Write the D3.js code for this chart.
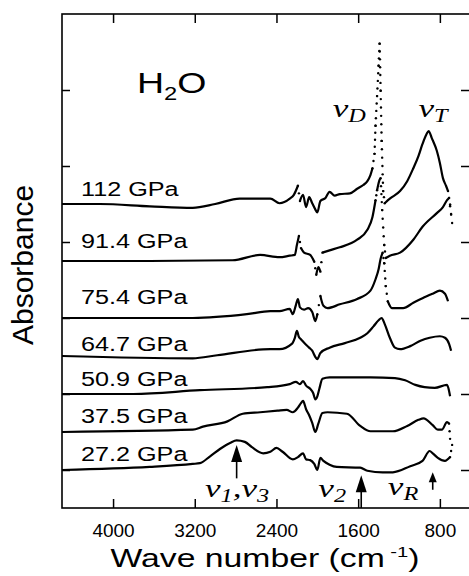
<!DOCTYPE html>
<html>
<head>
<meta charset="utf-8">
<script src="https://cdn.jsdelivr.net/npm/d3@7"></script>
<style>
  body { margin: 0; background: #fff; }
  svg { display: block; }
</style>
</head>
<body>
<svg id="chart"></svg>
<script>
// pressures, baseline offsets of the stacked spectra, ticks
const pressures = ['112 GPa', '91.4 GPa', '75.4 GPa', '64.7 GPa', '50.9 GPa', '37.5 GPa', '27.2 GPa'];
const offsets = [4.0, 3.25, 2.5, 2.0, 1.5, 1.0, 0.5];
const xTicks = [4000, 3200, 2400, 1600, 800];
const yTicks = [0.5, 1.5, 2.5, 3.5, 4.5, 5.5];

// [wave number, absorbance above the baseline offset]
const s112 = [[4500,0],[4130,0],[3640,-0.03],[3220,-0.05],[3000,0],[2760,0.07],[2460,0.07],[2370,0.01],[2270,0.07],
  [2230,0.12],[2190,0.24],[2170,0.04],[2140,0.12],[2110,-0.04],[2080,0.09],[2050,0.01],[2020,-0.07],[2000,-0.11],
  [1970,0.04],[1920,0.08],[1880,0.16],[1830,0.11],[1780,0.13],[1680,0.14],[1610,0.2],[1550,0.25],[1510,0.3],
  [1480,0.38],[1460,0.47],[1440,0.66],[1430,1.03],[1415,1.42],[1400,1.82],[1390,2.11],[1380,1.49],[1370,0.83],
  [1355,0.17],[1340,0.01],[1290,0.07],[1190,0.17],[1120,0.3],[1060,0.47],[1010,0.63],[970,0.79],[930,0.92],
  [910,0.96],[880,0.87],[830,0.7],[800,0.54],[770,0.34],[740,0.24],[720,0.17],[700,-0.01],[680,-0.25]];
const s914 = [[4500,0],[3640,0],[2830,0.01],[2560,0.08],[2370,0.05],[2270,0.07],[2220,0.08],[2200,0.21],[2180,0.33],
  [2160,0.17],[2130,0.11],[2070,0.08],[2030,-0.01],[2010,-0.18],[1990,-0.08],[1970,-0.14],[1950,0.11],[1880,0.14],
  [1780,0.18],[1610,0.28],[1510,0.41],[1460,0.58],[1430,0.8],[1415,0.93],[1390,1.07],[1380,1.09],[1365,0.67],
  [1345,0.21],[1330,0.04],[1290,0.07],[1190,0.11],[1060,0.28],[970,0.45],[830,0.63],[770,0.71],[730,0.8],
  [710,0.83],[690,0.61]];
const s754 = [[4500,0],[3220,0],[2690,0.05],[2460,0.09],[2370,0.09],[2270,0.12],[2240,0.05],[2210,0.17],[2190,0.25],
  [2170,0.14],[2130,0.11],[2090,0.13],[2050,0.08],[2020,-0.04],[2000,0.05],[1970,0.29],[1940,0.16],[1900,0.13],
  [1780,0.18],[1610,0.25],[1480,0.36],[1430,0.51],[1400,0.64],[1380,0.78],[1360,0.86],[1345,0.72],[1330,0.42],
  [1310,0.22],[1270,0.13],[1160,0.13],[1060,0.2],[970,0.26],[870,0.32],[800,0.36],[750,0.32],[720,0.22]];
const s647 = [[4500,0],[3220,-0.03],[2980,0.01],[2460,0.09],[2370,0.09],[2250,0.16],[2220,0.24],[2200,0.33],
  [2180,0.25],[2160,0.22],[2120,0.16],[2080,0.11],[2050,0.07],[2020,-0.01],[2000,-0.04],[1970,0.04],[1880,0.11],
  [1730,0.17],[1580,0.24],[1510,0.3],[1450,0.39],[1400,0.47],[1370,0.5],[1340,0.42],[1290,0.24],[1240,0.11],
  [1190,0.09],[1090,0.13],[990,0.2],[900,0.24],[800,0.26],[750,0.24],[710,0.16],[690,0.07]];
const s509 = [[4500,0],[3800,0],[3150,0.05],[2490,0.09],[2270,0.13],[2210,0.16],[2170,0.13],[2140,0.17],[2110,0.11],
  [2070,0.07],[2040,0.01],[2020,-0.07],[2000,-0.03],[1980,0.07],[1950,0.2],[1880,0.22],[1680,0.22],[1480,0.22],
  [1240,0.21],[1140,0.18],[1040,0.12],[950,0.09],[850,0.08],[730,0.12],[710,0.04],[700,-0.03]];
const s375 = [[4500,0],[3220,0.03],[3120,0.07],[2880,0.14],[2730,0.24],[2560,0.26],[2390,0.28],[2300,0.29],
  [2240,0.26],[2190,0.32],[2160,0.38],[2140,0.41],[2110,0.3],[2080,0.22],[2050,0.12],[2020,0],[1990,0.11],
  [1950,0.25],[1900,0.26],[1710,0.24],[1580,0.08],[1480,0.01],[1260,0.01],[1120,0.08],[1010,0.16],[960,0.18],
  [870,0.09],[820,0.03],[780,0.03],[730,0.13],[710,0.11],[700,-0.09]];
const s272 = [[4500,0],[3640,0.04],[3220,0.08],[3150,0.09],[3050,0.18],[2950,0.28],[2850,0.36],[2790,0.39],
  [2710,0.37],[2640,0.3],[2530,0.22],[2460,0.24],[2400,0.29],[2340,0.24],[2240,0.14],[2190,0.17],[2140,0.22],
  [2110,0.14],[2070,0.13],[2030,0.08],[2000,0],[1970,0.16],[1940,0.12],[1880,0.07],[1810,0.04],[1580,0.03],
  [1510,-0.01],[1360,-0.03],[1260,-0.03],[1090,0.05],[970,0.12],[900,0.25],[870,0.22],[820,0.16],[750,0.12],
  [700,0.17],[680,0.33]];
const spectra = [s112, s914, s754, s647, s509, s375, s272];

// band assignments: arrows (wave number, tip, tail)
const arrowWave = [2790, 1570, 870];
const arrowTip = [0.83, 0.43, 0.47];
const arrowTail = [0.39, 0, 0.24];

const width = 469, height = 576;
const svg = d3.select('#chart').attr('width', width).attr('height', height);

const x = d3.scaleLinear().domain([4500, 505]).range([62, 470]);
const y = d3.scaleLinear().domain([0, 6.5]).range([508, 14]);

const sans = '"Liberation Sans", Arial, Helvetica, sans-serif';
const serif = '"Liberation Serif", "Times New Roman", serif';

// ticks on all four sides, pointing inward
const axBottom = svg.append('g').attr('transform', `translate(0,${y(0)})`)
  .call(d3.axisBottom(x).tickValues(xTicks).tickFormat(d3.format('d'))
    .tickSizeInner(-9).tickSizeOuter(0).tickPadding(16));
const axTop = svg.append('g').attr('transform', `translate(0,${y(6.5)})`)
  .call(d3.axisTop(x).tickValues(xTicks).tickSizeInner(-9).tickSizeOuter(0).tickFormat(''));
const axLeft = svg.append('g').attr('transform', `translate(${x(4500)},0)`)
  .call(d3.axisLeft(y).tickValues(yTicks).tickSizeInner(-8).tickSizeOuter(0).tickFormat(''));
const axRight = svg.append('g').attr('transform', `translate(${x(505)},0)`)
  .call(d3.axisRight(y).tickValues(yTicks).tickSizeInner(-9).tickSizeOuter(0).tickFormat(''));

[axBottom, axTop, axLeft, axRight].forEach(a => {
  a.select('.domain').remove();
  a.selectAll('line').attr('stroke', '#000').attr('stroke-width', 1.5);
});
axBottom.selectAll('text').attr('fill', '#000').style('font', `19px ${sans}`);

svg.append('rect')
  .attr('x', x(4500)).attr('y', y(6.5))
  .attr('width', x(505) - x(4500)).attr('height', y(0) - y(6.5))
  .attr('fill', 'none').attr('stroke', '#000').attr('stroke-width', 1.6);

// spectra: smooth runs as lines, near-vertical stretches as dots (sparse sampling of the scan)
const line = d3.line().curve(d3.curveMonotoneX);
const plot = svg.append('g');
spectra.forEach((pts, i) => {
  const px = pts.map(d => [x(d[0]), y(d[1] + offsets[i])]);
  const runs = [];
  const dots = [];
  let run = [px[0]];
  for (let k = 0; k < px.length - 1; k++) {
    const [x0, y0] = px[k], [x1, y1] = px[k + 1];
    const dx = x1 - x0, dy = y1 - y0, len = Math.hypot(dx, dy);
    if (Math.abs(dy) > 5.5 * Math.abs(dx) && len > 8) {
      const n = Math.max(2, Math.round(len / 8));
      for (let j = 0; j <= n; j++) dots.push([x0 + dx * j / n, y0 + dy * j / n]);
      if (run.length > 1) runs.push(run);
      run = [px[k + 1]];
    } else {
      run.push(px[k + 1]);
    }
  }
  if (run.length > 1) runs.push(run);

  plot.selectAll(null).data(runs).enter().append('path')
    .attr('d', line)
    .attr('fill', 'none').attr('stroke', '#000')
    .attr('stroke-width', 2.2).attr('stroke-linejoin', 'round');
  plot.selectAll(null).data(dots).enter().append('circle')
    .attr('cx', d => d[0]).attr('cy', d => d[1]).attr('r', 1.2).attr('fill', '#000');
});

// pressure labels
const labelGap = [8, 13, 14, 5, 8, 9, 9];
pressures.forEach((t, i) => {
  svg.append('text')
    .attr('transform', `translate(81,${y(offsets[i]) - labelGap[i]}) scale(1.2,1)`)
    .style('font', `21px ${sans}`).attr('fill', '#000')
    .text(t);
});

// H2O
const h2o = svg.append('text')
  .attr('transform', 'translate(137,93) scale(1.25,1)')
  .style('font', `30px ${sans}`).attr('fill', '#000');
h2o.append('tspan').text('H');
h2o.append('tspan').attr('dy', 7).style('font-size', '19px').text('2');
h2o.append('tspan').attr('dy', -7).text('O');

// band labels
function bandLabel(w, a, parts) {
  const t = svg.append('text')
    .attr('transform', `translate(${x(w)},${y(a)}) scale(1.35,1)`)
    .style('font', `italic 26px ${serif}`).attr('fill', '#000');
  let low = false;
  parts.forEach(pt => {
    const sub = pt[1];
    const s = t.append('tspan').text(pt[0]);
    if (sub && !low) { s.attr('dy', 5).style('font-size', '18px'); low = true; }
    else if (!sub && low) { s.attr('dy', -5); low = false; }
    else if (sub) s.style('font-size', '18px');
  });
}
bandLabel(1850, 5.14, [['ν', 0], ['D', 1]]);
bandLabel(1010, 5.14, [['ν', 0], ['T', 1]]);
bandLabel(3100, 0.145, [['ν', 0], ['1', 1], [',ν', 0], ['3', 1]]);
bandLabel(1990, 0.145, [['ν', 0], ['2', 1]]);
bandLabel(1310, 0.17, [['ν', 0], ['R', 1]]);

// arrows
arrowWave.forEach((w, i) => {
  const ax = x(w), tip = y(arrowTip[i]), tail = y(arrowTail[i]);
  const hl = i === 2 ? 10 : 17, hw = i === 2 ? 4 : 5.5;
  svg.append('line')
    .attr('x1', ax).attr('x2', ax).attr('y1', tip + hl - 1).attr('y2', tail)
    .attr('stroke', '#000').attr('stroke-width', 1.6);
  svg.append('path')
    .attr('d', `M${ax},${tip}L${ax - hw},${tip + hl}L${ax + hw},${tip + hl}Z`)
    .attr('fill', '#000');
});

// axis titles
const xt = svg.append('text')
  .attr('transform', 'translate(265,567) scale(1.35,1)')
  .attr('text-anchor', 'middle')
  .style('font', `25px ${sans}`).attr('fill', '#000');
xt.append('tspan').text('Wave number (cm');
xt.append('tspan').attr('dy', -10).style('font-size', '15px').text(' -1');
xt.append('tspan').attr('dy', 10).text(')');

svg.append('text')
  .attr('transform', 'translate(33,265) rotate(-90)')
  .attr('text-anchor', 'middle')
  .style('font', `30px ${sans}`).attr('fill', '#000')
  .text('Absorbance');
</script>
</body>
</html>
